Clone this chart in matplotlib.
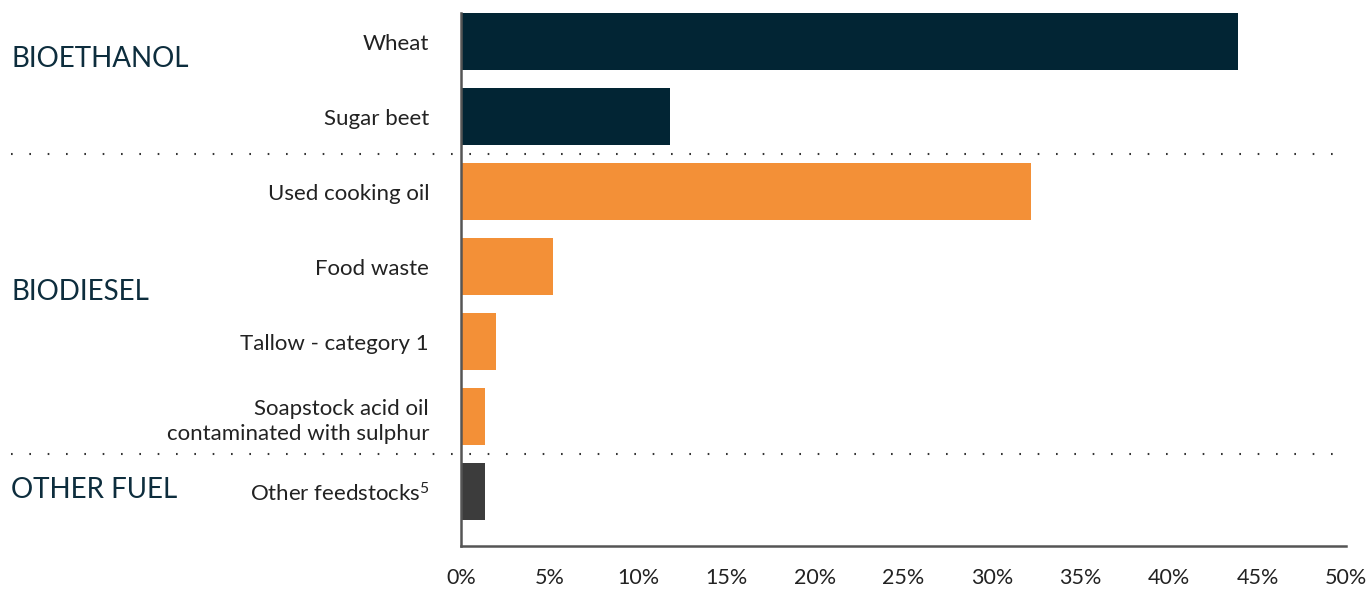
import matplotlib
matplotlib.use('Agg')
import matplotlib.pyplot as plt

# feedstock shares (%)
feedstocks = ['Wheat', 'Sugar beet', 'Used cooking oil', 'Food waste',
              'Tallow - category 1', 'Soapstock acid oil\ncontaminated with sulphur',
              'Other feedstocks$^{5}$']
shares = [43.9, 11.8, 32.2, 5.2, 2.0, 1.35, 1.35]
fuel_type = ['BIOETHANOL', 'BIOETHANOL', 'BIODIESEL', 'BIODIESEL', 'BIODIESEL', 'BIODIESEL', 'OTHER FUEL']
groups = ['BIOETHANOL', 'BIODIESEL', 'OTHER FUEL']
group_y = [0.23, 3.33, 5.98]
xticks = [0, 5, 10, 15, 20, 25, 30, 35, 40, 45, 50]

colors = {'BIOETHANOL': '#022534', 'BIODIESEL': '#F39037', 'OTHER FUEL': '#3C3C3C'}

plt.rcParams['font.family'] = ['Lato', 'DejaVu Sans']
plt.rcParams['mathtext.fontset'] = 'custom'
plt.rcParams['mathtext.rm'] = 'Lato'
plt.rcParams['mathtext.default'] = 'regular'

fig = plt.figure(figsize=(13.7, 5.92), dpi=100)
ax = fig.add_axes([0.3365, 0.0777, 0.646, 0.9003])

ypos = list(range(len(feedstocks)))
ax.barh(ypos, shares, height=0.76, color=[colors[t] for t in fuel_type])

ax.set_xlim(0, 50)
ax.set_ylim(6.72, -0.385)
ax.set_xticks(xticks)
ax.set_xticklabels([f'{v}%' for v in xticks], fontsize=15.5, color='#222222')
ax.set_yticks(ypos)
ax.set_yticklabels(feedstocks, fontsize=16, color='#222222', linespacing=1.3)
ax.tick_params(axis='both', length=0)
ax.tick_params(axis='y', pad=23)
ax.tick_params(axis='x', pad=16)

for s in ['top', 'right']:
    ax.spines[s].set_visible(False)
for s in ['left', 'bottom']:
    ax.spines[s].set_color('#555555')
    ax.spines[s].set_linewidth(1.8)

# dotted separators between fuel groups
for b in [1.5, 5.5]:
    ax.plot([-0.508, 1.003], [b, b], transform=ax.get_yaxis_transform(), clip_on=False,
            linestyle=(0, (0.8, 8)), color='#333333', linewidth=1.5)

# group labels
for g, yc in zip(groups, group_y):
    ax.text(-0.508, yc, g, transform=ax.get_yaxis_transform(), fontsize=20,
            color='#0d2d3d', ha='left', va='center')

fig.savefig('out.png', dpi=100)
